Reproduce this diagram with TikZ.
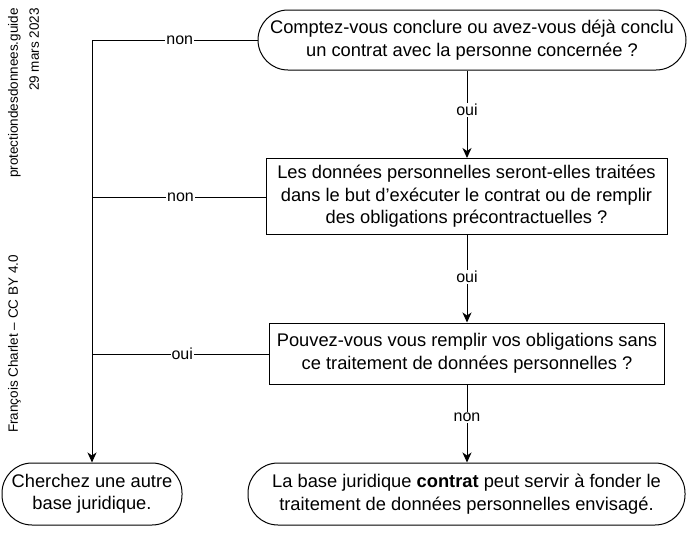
\documentclass[tikz,border=0pt]{standalone}
\usepackage{fontspec}
\setmainfont{Liberation Sans}
\usetikzlibrary{arrows.meta}
\begin{document}
\begin{tikzpicture}[x=1pt,y=-1pt,
  base/.style={draw=black,line width=1pt,align=center,font=\fontsize{18.3}{22.5}\selectfont,inner sep=0pt},
  stadium/.style={base,rounded corners=30pt},
  qbox/.style={base},
  lbl/.style={fill=white,inner sep=1pt,font=\fontsize{16}{18}\selectfont},
  conn/.style={line width=1pt},
  arr/.style={conn,-{Stealth[length=10pt,width=9pt,inset=3pt]}},
  side/.style={rotate=90,font=\fontsize{13.5}{21}\selectfont,align=right,inner sep=0pt}]
\useasboundingbox (0,0) rectangle (690,536);
\node[stadium,minimum width=428pt,minimum height=60pt] (q1) at (472,40) {Comptez-vous conclure ou avez-vous déjà conclu\\un contrat avec la personne concernée ?};
\node[qbox,minimum width=401pt,minimum height=76pt] (q2) at (466.5,196.5) {Les données personnelles seront-elles traitées\\dans le but d’exécuter le contrat ou de remplir\\des obligations précontractuelles ?};
\node[qbox,minimum width=395pt,minimum height=61pt] (q3) at (467,353.5) {Pouvez-vous vous remplir vos obligations sans\\ce traitement de données personnelles ?};
\node[stadium,minimum width=180pt,minimum height=62pt] (e1) at (92,494) {Cherchez une autre\\base juridique.};
\node[stadium,minimum width=437pt,minimum height=62pt] (e2) at (466.5,494) {La base juridique \textbf{contrat} peut servir à fonder le\\traitement de données personnelles envisagé.};
\coordinate (c1) at (92,40);
\coordinate (c2) at (92,197);
\coordinate (c3) at (92,354);
\draw[arr] (q1.south -| 467,0) -- node[lbl,pos=0.45]{oui} (q2.north -| 467,0);
\draw[arr] (q2.south -| 467,0) -- node[lbl,pos=0.48]{oui} (q3.north -| 467,0);
\draw[arr] (q3.south -| 467,0) -- node[lbl,pos=0.42]{non} (e2.north -| 467,0);
\draw[conn] (q1.west) -- node[lbl,pos=0.47]{non} (c1);
\draw[arr] (c1) -- (e1.north);
\draw[conn] (q2.west |- c2) -- node[lbl,pos=0.49]{non} (c2);
\draw[conn] (q3.west |- c3) -- node[lbl,pos=0.49]{oui} (c3);
\node[side,anchor=north east] (s1) at (8,8) {protectiondesdonnees.guide\\29 mars 2023};
\node[side,anchor=south west] (s2) at (21,433) {François Charlet – CC BY 4.0};
\end{tikzpicture}
\end{document}
